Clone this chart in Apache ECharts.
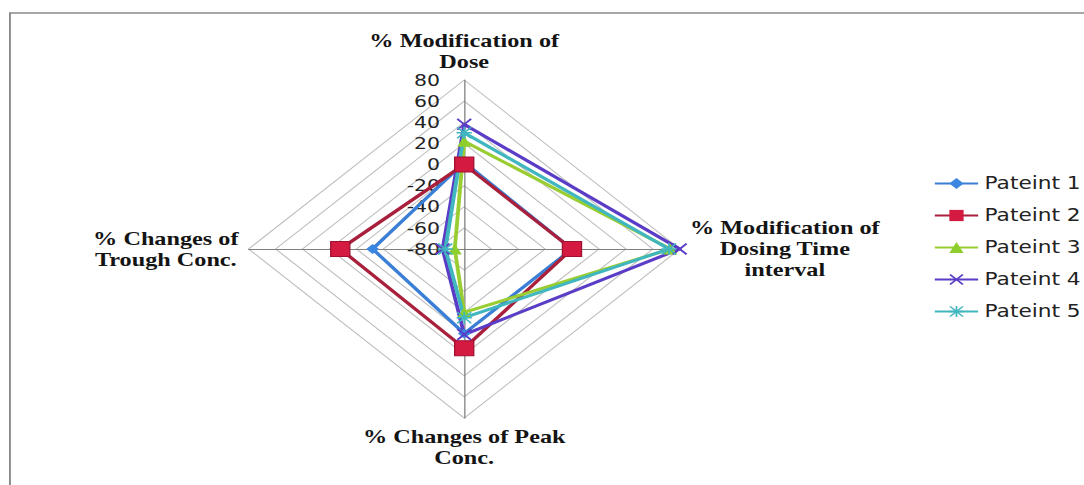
<!DOCTYPE html>
<html><head><meta charset="utf-8">
<script src="https://cdn.jsdelivr.net/npm/echarts@6/dist/echarts.min.js"></script>
<style>
html,body{margin:0;padding:0;background:#fff;overflow:hidden;width:1084px;height:485px}
#wrap{position:absolute;left:0;top:0;width:850px;height:485px;transform:scaleX(1.2753);transform-origin:0 0}
</style></head><body><div id="wrap"></div>
<script>
// Radar axes, listed counter-clockwise from the top (ECharts order): top, left, bottom, right
const categories = ['% Modification of\nDose', '% Changes of\nTrough Conc.', '% Changes of Peak\nConc.', '% Modification of\nDosing Time\ninterval'];
const axisMin = -80, axisMax = 80, axisStep = 20;
const seriesNames = ['Pateint 1', 'Pateint 2', 'Pateint 3', 'Pateint 4', 'Pateint 5'];
// values in the same order as categories: Dose, Trough, Peak, Dosing interval
const pateint1 = [2, -12, 0, 0];
const pateint2 = [0, 12, 14, 0];
const pateint3 = [22, -73, -20, 73];
const pateint4 = [38, -64, 1, 80];
const pateint5 = [30, -66, -15, 72];
const values = [pateint1, pateint2, pateint3, pateint4, pateint5];

const lineColors = ['#3a7fd5', '#a8203c', '#9acd32', '#5a3cc6', '#40b6be'];
const markColors = ['#3a86e0', '#d41a40', '#8fcf2c', '#5a3cc6', '#40b6be'];
const xPath = 'path://M0,1L1,0L5,4L9,0L10,1L6,5L10,9L9,10L5,6L1,10L0,9L4,5Z';
const starPath = 'path://M4.4,0H5.6V4.4H10V5.6H5.6V10H4.4V5.6H0V4.4H4.4Z M0.8,0L5,4.2L9.2,0L10,0.8L5.8,5L10,9.2L9.2,10L5,5.8L0.8,10L0,9.2L4.2,5L0,0.8Z';
const symbols = ['diamond', 'rect', 'triangle', xPath, starPath];
const symbolSizes = [10, 15, 11, 12, 12];

const chart = echarts.init(document.getElementById('wrap'), null, {renderer: 'svg', width: 850, height: 485});
const cx = 364, cy = 249, R = 169;

const nameStyle = {fontFamily: 'Liberation Serif', fontWeight: 'bold', fontSize: 19, lineHeight: 21, color: '#141414', align: 'center'};

const legendSeries = seriesNames.map((n, i) => ({
  type: 'line', name: n, data: [], xAxisIndex: 0, yAxisIndex: 0,
  symbol: symbols[i], symbolSize: symbolSizes[i],
  lineStyle: {color: lineColors[i], width: 3},
  itemStyle: {color: markColors[i]}
}));
const radarSeries = seriesNames.map((n, i) => ({
  type: 'radar', name: n, radarIndex: 0,
  symbol: symbols[i], symbolSize: symbolSizes[i],
  lineStyle: {color: lineColors[i], width: 3},
  itemStyle: {color: markColors[i], borderColor: i === 1 ? '#a01030' : markColors[i], borderWidth: i === 1 ? 1 : 0},
  data: [{name: n, value: values[i]}]
}));

chart.setOption({
  animation: false,
  backgroundColor: '#ffffff',
  graphic: [{type: 'rect', shape: {x: 7.8, y: 13, width: 900, height: 520}, style: {fill: 'none', stroke: '#8a8a8a', lineWidth: 1.5}, z: -10}],
  grid: {left: cx, top: cy - R, height: R, width: 1, show: false},
  xAxis: {type: 'value', show: false},
  yAxis: {type: 'value', min: axisMin, max: axisMax, interval: axisStep,
    axisLine: {show: false}, axisTick: {show: false}, splitLine: {show: false},
    axisLabel: {margin: 19, color: '#222', fontSize: 16, fontFamily: 'DejaVu Sans'}},
  legend: {
    orient: 'vertical', left: 727, top: 170, itemWidth: 34, itemHeight: 14, itemGap: 15,
    data: seriesNames,
    textStyle: {fontSize: 17, fontFamily: 'DejaVu Sans', color: '#222'}
  },
  radar: {
    center: [cx, cy], radius: R, shape: 'polygon', startAngle: 90, splitNumber: 8,
    indicator: categories.map(c => ({name: c, min: axisMin, max: axisMax})),
    nameGap: 8,
    axisName: {
      formatter: (name) => name.split('\n').map(l => '{c|' + l + '}').join('\n'),
      rich: {c: nameStyle}
    },
    axisLine: {lineStyle: {color: '#7f7f7f', width: 1}},
    splitLine: {lineStyle: {color: '#bdbdbd', width: 1}},
    splitArea: {show: false},
    axisLabel: {show: false}
  },
  series: legendSeries.concat(radarSeries)
});
</script></body></html>
